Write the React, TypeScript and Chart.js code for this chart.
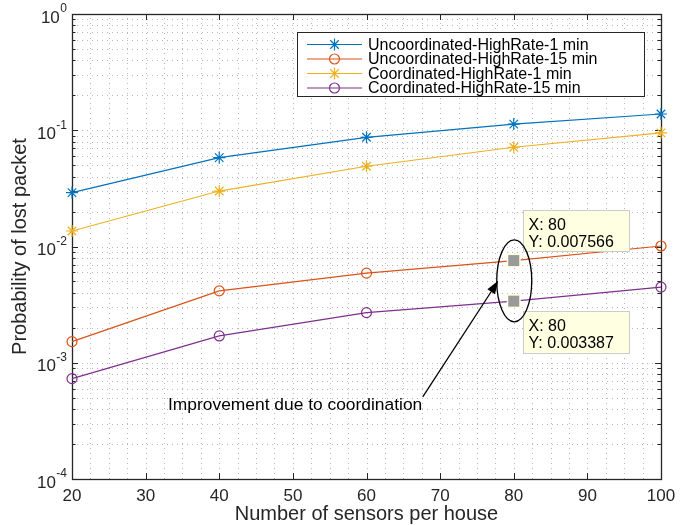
import React, { useEffect, useRef } from "react";
import { Chart, registerables } from "chart.js";

Chart.register(...registerables);

const xValues = [20, 40, 60, 80, 100];
const uncoord1min = [0.0291, 0.0582, 0.087, 0.113, 0.138];
const uncoord15min = [0.00152, 0.00415, 0.0059, 0.007566, 0.0101];
const coord1min = [0.0136, 0.03, 0.049, 0.0714, 0.095];
const coord15min = [0.00073, 0.0017, 0.0027, 0.003387, 0.00447];

const seriesNames = [
  "Uncoordinated-HighRate-1 min",
  "Uncoordinated-HighRate-15 min",
  "Coordinated-HighRate-1 min",
  "Coordinated-HighRate-15 min",
];
const seriesColors = ["#0072BD", "#D95319", "#EDB120", "#7E2F8E"];
const seriesMarkers = ["star", "circle", "star", "circle"];

const xTicks = [20, 30, 40, 50, 60, 70, 80, 90, 100];
const yExponents = [0, -1, -2, -3, -4];

const tipX = 80;
const tipValues = [0.007566, 0.003387];
const tipLabels = [
  ["X: 80", "Y: 0.007566"],
  ["X: 80", "Y: 0.003387"],
];
const annotationText = "Improvement due to coordination";
const xTitle = "Number of sensors per house";
const yTitle = "Probability of lost packet";

const FONT = '"Liberation Sans", Arial, sans-serif';
const AXIS = "#262626";

function drawMarker(ctx: CanvasRenderingContext2D, kind: string, x: number, y: number, color: string) {
  ctx.save();
  ctx.strokeStyle = color;
  ctx.lineWidth = 1.2;
  ctx.beginPath();
  if (kind === "star") {
    const r = 6;
    const d = r * Math.SQRT1_2;
    ctx.moveTo(x - r, y); ctx.lineTo(x + r, y);
    ctx.moveTo(x, y - r); ctx.lineTo(x, y + r);
    ctx.moveTo(x - d, y - d); ctx.lineTo(x + d, y + d);
    ctx.moveTo(x - d, y + d); ctx.lineTo(x + d, y - d);
  } else {
    ctx.arc(x, y, 5, 0, Math.PI * 2);
  }
  ctx.stroke();
  ctx.restore();
}

const matlabPlugin = {
  id: "matlabStyle",
  beforeDatasetsDraw(chart: any) {
    const { ctx, chartArea } = chart;
    const xs = chart.scales.x;
    const ys = chart.scales.y;
    const { left, right, top, bottom } = chartArea;
    ctx.save();
    // grid
    ctx.strokeStyle = "#b8b8b8";
    ctx.lineWidth = 1;
    ctx.setLineDash([1, 4]);
    for (let v = 22.5; v < 100; v += 2.5) {
      const px = Math.round(xs.getPixelForValue(v)) + 0.5;
      ctx.beginPath();
      ctx.moveTo(px, bottom);
      ctx.lineTo(px, top);
      ctx.stroke();
    }
    for (let e = -4; e <= -1; e++) {
      for (let m = 1; m <= 9; m++) {
        if (e === -4 && m === 1) continue;
        const py = Math.round(ys.getPixelForValue(m * Math.pow(10, e))) + 0.5;
        ctx.beginPath();
        ctx.moveTo(left, py);
        ctx.lineTo(right, py);
        ctx.stroke();
      }
    }
    ctx.setLineDash([]);
    // box
    ctx.strokeStyle = AXIS;
    ctx.lineWidth = 1.3;
    ctx.strokeRect(left + 0.5, top + 0.5, right - left, bottom - top);
    // x ticks
    ctx.lineWidth = 1;
    for (const t of xTicks) {
      const px = Math.round(xs.getPixelForValue(t)) + 0.5;
      ctx.beginPath();
      ctx.moveTo(px, bottom);
      ctx.lineTo(px, bottom - 6);
      ctx.moveTo(px, top);
      ctx.lineTo(px, top + 6);
      ctx.stroke();
    }
    // y ticks
    for (let e = -4; e <= 0; e++) {
      for (let m = 1; m <= 9; m++) {
        if (e === 0 && m > 1) break;
        const py = Math.round(ys.getPixelForValue(m * Math.pow(10, e))) + 0.5;
        const len = m === 1 ? 6 : 3.5;
        ctx.beginPath();
        ctx.moveTo(left, py);
        ctx.lineTo(left + len, py);
        ctx.moveTo(right, py);
        ctx.lineTo(right - len, py);
        ctx.stroke();
      }
    }
    // tick labels
    ctx.fillStyle = AXIS;
    ctx.font = `17px ${FONT}`;
    ctx.textAlign = "center";
    ctx.textBaseline = "middle";
    for (const t of xTicks) {
      ctx.fillText(String(t), xs.getPixelForValue(t), bottom + 17);
    }
    for (const e of yExponents) {
      const py = ys.getPixelForValue(Math.pow(10, e));
      const sup = String(e).replace("-", "-");
      ctx.font = `12px ${FONT}`;
      const supW = ctx.measureText(sup).width;
      const supX = left - 5 - supW;
      ctx.textAlign = "left";
      ctx.fillText(sup, supX, py - 5);
      ctx.font = `17px ${FONT}`;
      ctx.textAlign = "right";
      ctx.fillText("10", supX - 0.5, py + 4);
    }
    // axis titles
    ctx.font = `20px ${FONT}`;
    ctx.textAlign = "center";
    ctx.textBaseline = "middle";
    ctx.fillText(xTitle, (left + right) / 2, bottom + 35);
    ctx.save();
    ctx.translate(20, (top + bottom) / 2);
    ctx.rotate(-Math.PI / 2);
    ctx.fillText(yTitle, 0, 0);
    ctx.restore();
    ctx.restore();
  },
  afterDatasetsDraw(chart: any) {
    const { ctx } = chart;
    const xs = chart.scales.x;
    const ys = chart.scales.y;
    ctx.save();
    // legend
    const lx = 297.5, ly = 32.5, lw = 347, lh = 64;
    ctx.fillStyle = "#ffffff";
    ctx.fillRect(lx, ly, lw, lh);
    ctx.strokeStyle = AXIS;
    ctx.lineWidth = 1;
    ctx.strokeRect(lx, ly, lw, lh);
    ctx.font = `16px ${FONT}`;
    ctx.textAlign = "left";
    ctx.textBaseline = "middle";
    seriesNames.forEach((name, i) => {
      const ry = ly + 12 + i * 14.5;
      ctx.strokeStyle = seriesColors[i];
      ctx.lineWidth = 1.2;
      ctx.beginPath();
      ctx.moveTo(307, ry);
      ctx.lineTo(362, ry);
      ctx.stroke();
      drawMarker(ctx, seriesMarkers[i], 334.5, ry, seriesColors[i]);
      ctx.fillStyle = "#000000";
      ctx.fillText(name, 368, ry + 1);
    });

    // data tips
    const px = xs.getPixelForValue(tipX);
    const py1 = ys.getPixelForValue(tipValues[0]);
    const py2 = ys.getPixelForValue(tipValues[1]);
    const boxes = [
      { x: Math.round(px) + 9.5, y: Math.round(py1) - 50.5, h: 41 },
      { x: Math.round(px) + 9.5, y: Math.round(py2) + 10.5, h: 42 },
    ];
    boxes.forEach((b, i) => {
      ctx.fillStyle = "#FFFFE1";
      ctx.fillRect(b.x, b.y, 106, b.h);
      ctx.strokeStyle = "#cccccc";
      ctx.lineWidth = 1;
      ctx.strokeRect(b.x, b.y, 106, b.h);
      ctx.fillStyle = "#000000";
      ctx.font = `16px ${FONT}`;
      ctx.textAlign = "left";
      ctx.textBaseline = "middle";
      ctx.fillText(tipLabels[i][0], b.x + 5, b.y + 15);
      ctx.fillText(tipLabels[i][1], b.x + 5, b.y + 32);
    });
    [py1, py2].forEach((py) => {
      ctx.fillStyle = "#FFFFE1";
      ctx.fillRect(px - 7, py - 7, 14, 14);
      ctx.fillStyle = "#999999";
      ctx.fillRect(px - 5.5, py - 5.5, 11, 11);
    });

    // ellipse
    const cx = px + 0.5;
    const cy = (py1 + py2) / 2;
    const rx = 17.5, ry = 41;
    ctx.strokeStyle = "#000000";
    ctx.lineWidth = 1.3;
    ctx.beginPath();
    ctx.ellipse(cx, cy, rx, ry, 0, 0, Math.PI * 2);
    ctx.stroke();

    // arrow
    const tipXp = cx - rx + 1.5, tipYp = cy;
    const tailX = cx - 91.5, tailY = cy + 116;
    const ang = Math.atan2(tipYp - tailY, tipXp - tailX);
    const hl = 13, hw = 4.5;
    const bx = tipXp - hl * Math.cos(ang), by = tipYp - hl * Math.sin(ang);
    ctx.beginPath();
    ctx.moveTo(tailX, tailY);
    ctx.lineTo(bx, by);
    ctx.stroke();
    ctx.fillStyle = "#000000";
    ctx.beginPath();
    ctx.moveTo(tipXp, tipYp);
    ctx.lineTo(bx + hw * Math.sin(ang), by - hw * Math.cos(ang));
    ctx.lineTo(bx - hw * Math.sin(ang), by + hw * Math.cos(ang));
    ctx.closePath();
    ctx.fill();

    ctx.font = `17.4px ${FONT}`;
    ctx.textAlign = "right";
    ctx.textBaseline = "alphabetic";
    ctx.fillStyle = "#000000";
    ctx.fillText(annotationText, tailX - 0.5, tailY + 13);
    ctx.restore();
  },
};

export default function App() {
  const canvasRef = useRef<HTMLCanvasElement | null>(null);

  useEffect(() => {
    const canvas = canvasRef.current;
    if (!canvas) return;
    const datasets = [uncoord1min, uncoord15min, coord1min, coord15min].map((vals, i) => ({
      label: seriesNames[i],
      data: xValues.map((x, j) => ({ x, y: vals[j] })),
      borderColor: seriesColors[i],
      backgroundColor: "rgba(0,0,0,0)",
      borderWidth: 1.2,
      pointStyle: seriesMarkers[i],
      pointRadius: seriesMarkers[i] === "star" ? 6 : 5,
      pointBorderColor: seriesColors[i],
      pointBackgroundColor: "rgba(0,0,0,0)",
      pointBorderWidth: 1.2,
      tension: 0,
      clip: false as any,
    }));
    const chart = new Chart(canvas, {
      type: "line",
      data: { datasets },
      plugins: [matlabPlugin],
      options: {
        animation: false,
        responsive: false,
        devicePixelRatio: 1,
        events: [],
        layout: { padding: { top: 14, right: 33, bottom: 0, left: 0 } },
        plugins: { legend: { display: false }, tooltip: { enabled: false } },
        scales: {
          x: {
            type: "linear",
            min: 20,
            max: 100,
            grid: { display: false },
            border: { display: false },
            ticks: { display: false },
            afterFit: (s: any) => { s.height = 46; },
          },
          y: {
            type: "logarithmic",
            min: 1e-4,
            max: 1,
            grid: { display: false },
            border: { display: false },
            ticks: { display: false },
            afterFit: (s: any) => { s.width = 72; },
          },
        },
      } as any,
    });
    return () => chart.destroy();
  }, []);

  return (
    <div style={{ position: "fixed", left: 0, top: 0, width: 694, height: 525, background: "#fff" }}>
      <canvas ref={canvasRef} width={694} height={525} style={{ display: "block", width: 694, height: 525 }} />
    </div>
  );
}
